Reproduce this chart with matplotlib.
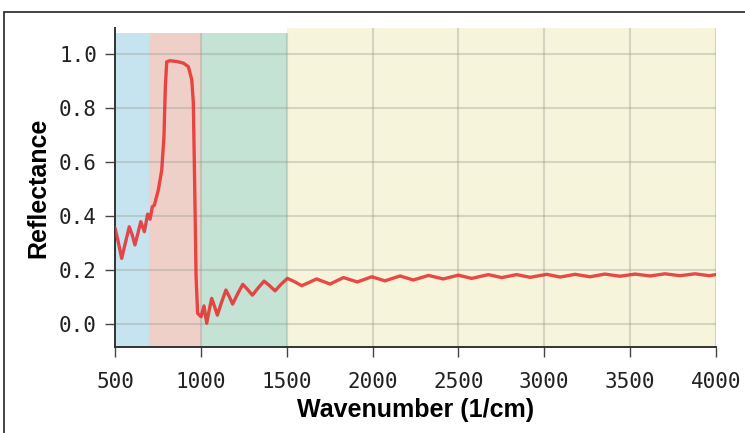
import matplotlib
matplotlib.use("Agg")
import matplotlib.pyplot as plt
from matplotlib.patches import Rectangle

# Spectral bands (wavenumber ranges, 1/cm) and their fill colours
band_edges = [500, 700, 1000, 1500, 4000]
band_colors = ["#c6e4ef", "#eed0c9", "#c4e3d4", "#f6f4db"]

# Reflectance spectrum: wavenumber (1/cm) and reflectance
wavenumber = [
    500, 520, 539, 560, 583, 600, 616, 633, 650, 671, 690, 704, 717, 729,
    752, 772, 785, 793, 801, 820, 860, 898, 927, 947, 956, 964, 972, 981,
    1001, 1018, 1034, 1048, 1063, 1080, 1096, 1120, 1146, 1165, 1185, 1214,
    1244, 1272, 1300, 1334, 1368, 1400, 1432, 1468, 1504, 1545, 1587, 1630,
    1674, 1752, 1830, 1911, 1995, 2072, 2160, 2237, 2325, 2412, 2499, 2577,
    2674, 2752, 2839, 2917, 3014, 3092, 3179, 3266, 3353, 3441, 3528,
    3616, 3703, 3790, 3878, 3960, 4000,
]
reflectance = [
    0.356, 0.300, 0.243, 0.300, 0.360, 0.330, 0.293, 0.335, 0.379, 0.342,
    0.407, 0.388, 0.434, 0.440, 0.496, 0.570, 0.694, 0.879, 0.971, 0.975,
    0.972, 0.966, 0.953, 0.904, 0.820, 0.510, 0.175, 0.040, 0.027, 0.067,
    0.003, 0.050, 0.095, 0.064, 0.033, 0.080, 0.126, 0.102, 0.074, 0.112,
    0.147, 0.128, 0.107, 0.134, 0.159, 0.142, 0.123, 0.148, 0.169, 0.157,
    0.142, 0.154, 0.167, 0.148, 0.172, 0.156, 0.175, 0.160, 0.178, 0.163,
    0.180, 0.167, 0.181, 0.169, 0.183, 0.172, 0.183, 0.173, 0.184, 0.174,
    0.184, 0.175, 0.185, 0.177, 0.185, 0.178, 0.186, 0.179, 0.186, 0.179,
    0.183,
]

x_ticks = [500, 1000, 1500, 2000, 2500, 3000, 3500, 4000]
y_ticks = [0.0, 0.2, 0.4, 0.6, 0.8, 1.0]

y_min, y_max = -0.085, 1.096
band_top = 1.078

fig = plt.figure(figsize=(7.45, 4.33), dpi=100)
ax = fig.add_axes([0.1544, 0.1986, 0.8067, 0.7367])
ax.set_xlim(500, 4000)
ax.set_ylim(y_min, y_max)

# Coloured bands; the last band runs up to the top of the axes
for i, c in enumerate(band_colors):
    top = y_max if i == len(band_colors) - 1 else band_top
    ax.add_patch(Rectangle((band_edges[i], y_min), band_edges[i + 1] - band_edges[i],
                           top - y_min, facecolor=c, edgecolor="none", zorder=0))

# Grid lines drawn over the bands
grid_kw = dict(color="#8f9488", alpha=0.32, lw=1.5, zorder=1)
for yt in y_ticks:
    ax.axhline(yt, **grid_kw)
for xt in x_ticks[1:]:
    top = y_max if xt > 1500 else band_top
    ax.vlines(xt, y_min, top, **grid_kw)

ax.plot(wavenumber, reflectance, color="#e62b2b", alpha=0.85, lw=2.4,
        solid_joinstyle="round", solid_capstyle="round", zorder=3)

for s in ["top", "right"]:
    ax.spines[s].set_visible(False)
for s in ["left", "bottom"]:
    ax.spines[s].set_color("#333333")
    ax.spines[s].set_linewidth(1.4)

ax.set_xticks(x_ticks)
ax.set_yticks(y_ticks)
ax.set_yticklabels([f"{v:.1f}" for v in y_ticks])
ax.tick_params(axis="both", length=7, width=1.0, color="#444444",
               labelsize=15, labelcolor="#222222")
ax.tick_params(axis="x", pad=11)
ax.tick_params(axis="y", pad=6)
for lab in ax.get_xticklabels() + ax.get_yticklabels():
    lab.set_family("DejaVu Sans Mono")

ax.set_xlabel("Wavenumber (1/cm)", fontsize=18, fontweight="bold",
              family="Liberation Sans", labelpad=4)
ax.set_ylabel("Reflectance", fontsize=18, fontweight="bold",
              family="Liberation Sans", labelpad=6)

# Thin frame around the figure
fig.add_artist(Rectangle((0.006, -0.1), 1.2, 0.1 + 1 - 12 / 433, transform=fig.transFigure,
                         fill=False, edgecolor="#222222", lw=1.2))

fig.savefig("out.png", dpi=100)
